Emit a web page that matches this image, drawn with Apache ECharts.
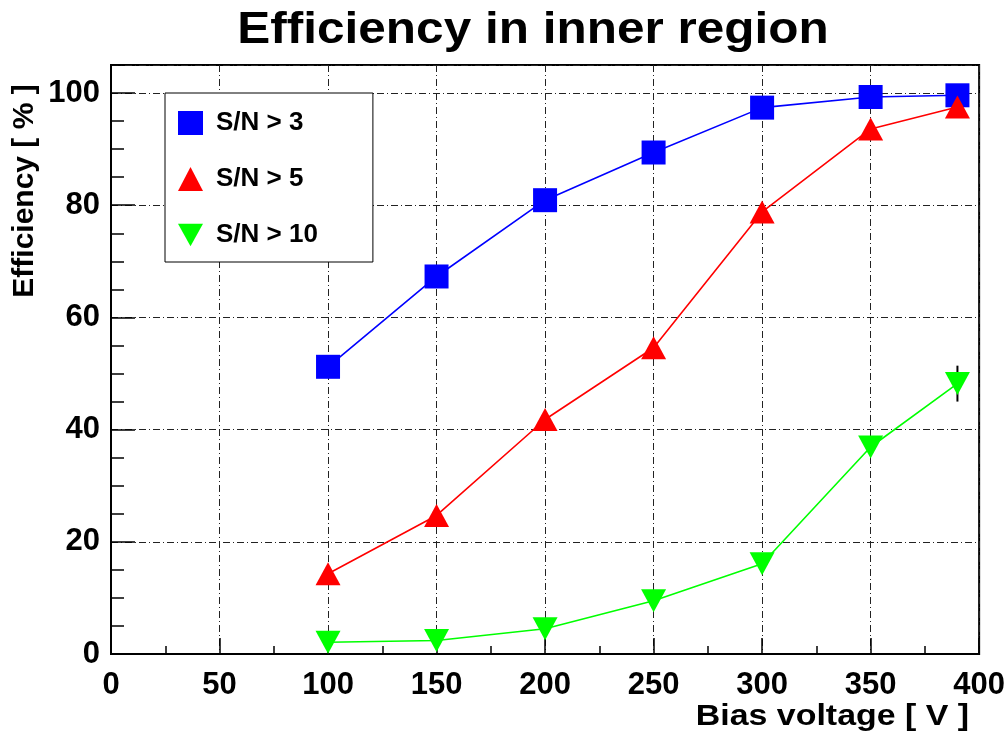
<!DOCTYPE html>
<html>
<head>
<meta charset="utf-8">
<script src="https://cdn.jsdelivr.net/npm/echarts@6/dist/echarts.min.js"></script>
<style>html,body{margin:0;padding:0;background:#fff;}#c{width:1008px;height:736px;}</style>
</head>
<body>
<div id="c"></div>
<script>
var voltages = [100, 150, 200, 250, 300, 350, 390];
var sn3  = [51.2, 67.3, 80.9, 89.4, 97.4, 99.3, 99.6];
var sn5  = [14.3, 24.7, 41.8, 54.6, 78.8, 93.6, 97.5];
var sn10 = [2.1, 2.4, 4.5, 9.5, 16.1, 36.9, 48.2];
var sn10Err = [0, 0, 0, 0, 0, 0, 3.2];
var seriesNames = ['S/N > 3', 'S/N > 5', 'S/N > 10'];
var xTicks = [0, 50, 100, 150, 200, 250, 300, 350, 400];
var yTicks = [0, 20, 40, 60, 80, 100];
var titleText = 'Efficiency in inner region';
var xName = 'Bias voltage [ V ]';
var yName = 'Efficiency [ % ]';

function pairs(ys) { return voltages.map(function (v, i) { return [v, ys[i]]; }); }
var downTri = 'path://M0,0 L20,0 L10,18 Z';
var FONT = '"Liberation Sans", Arial, sans-serif';
var gridDash = [7, 3, 1, 3];

var chart = echarts.init(document.getElementById('c'));
var labelStyle = { fontFamily: FONT, fontWeight: 'bold', fontSize: 31, color: '#000' };

chart.setOption({
  backgroundColor: '#fff',
  animation: false,
  grid: {
    left: 111, right: 28, top: 65, bottom: 82,
    show: true, borderColor: '#000', borderWidth: 2, backgroundColor: '#fff'
  },
  legend: {
    orient: 'vertical', left: 165, top: 93,
    backgroundColor: '#fff', borderColor: '#000', borderWidth: 1, borderRadius: 0,
    padding: [17, 55, 14, 13], itemGap: 30, itemWidth: 25, itemHeight: 24,
    textStyle: { fontFamily: FONT, fontWeight: 'bold', fontSize: 26, lineHeight: 24, color: '#000', padding: [0, 0, 0, 8] },
    data: [
      { name: seriesNames[0], icon: 'rect' },
      { name: seriesNames[1], icon: 'triangle' },
      { name: seriesNames[2], icon: downTri }
    ]
  },
  xAxis: [{
    type: 'value', min: 0, max: 400, interval: 50,
    axisLine: { show: true, lineStyle: { color: '#000', width: 2 } },
    axisTick: { show: true, inside: true, length: 16, lineStyle: { color: '#000', width: 1.5 } },
    minorTick: { show: true, splitNumber: 2, length: 8, lineStyle: { color: '#000', width: 1.5 } },
    axisLabel: Object.assign({ margin: 16, formatter: function (v) { return xTicks.indexOf(v) >= 0 ? String(v) : ''; } }, labelStyle),
    splitLine: { show: true, lineStyle: { color: '#222', width: 1, type: gridDash } }
  }],
  yAxis: [{
    type: 'value', min: 0, max: 105, interval: 20,
    axisLine: { show: true, lineStyle: { color: '#000', width: 2 } },
    axisTick: { show: true, inside: true, length: 24, lineStyle: { color: '#000', width: 1.5 } },
    axisLabel: Object.assign({ margin: 11, showMaxLabel: false, formatter: function (v) { return yTicks.indexOf(v) >= 0 ? String(v) : ''; } }, labelStyle),
    splitLine: { show: true, lineStyle: { color: '#222', width: 1, type: gridDash } }
  }, {
    type: 'value', min: 0, max: 105, interval: 5, position: 'left', offset: 0,
    axisLine: { show: false },
    axisTick: { show: true, inside: true, length: 13, lineStyle: { color: '#000', width: 1.5 } },
    axisLabel: { show: false },
    splitLine: { show: false }
  }],
  graphic: [
    {
      type: 'text', x: 533, y: 31, scaleX: 1.1,
      style: { text: titleText, fontFamily: FONT, fontWeight: 'bold', fontSize: 45, fill: '#000', align: 'center', verticalAlign: 'middle' }
    },
    {
      type: 'text', x: 25, y: 191, rotation: Math.PI / 2,
      style: { text: yName, fontFamily: FONT, fontWeight: 'bold', fontSize: 30, fill: '#000', align: 'center', verticalAlign: 'middle' }
    },
    {
      type: 'text', x: 969, y: 717, scaleX: 1.13,
      style: { text: xName, fontFamily: FONT, fontWeight: 'bold', fontSize: 30, fill: '#000', align: 'right', verticalAlign: 'middle' }
    }
  ],
  series: [
    {
      type: 'custom', name: 'err', silent: true, z: 1,
      data: voltages.map(function (v, i) { return [v, sn10[i], sn10Err[i]]; }),
      renderItem: function (params, api) {
        var e = api.value(2);
        if (!e) return null;
        var top = api.coord([api.value(0), api.value(1) + e]);
        var bot = api.coord([api.value(0), api.value(1) - e]);
        return { type: 'line', shape: { x1: top[0], y1: top[1], x2: bot[0], y2: bot[1] }, style: { stroke: '#000', lineWidth: 2 } };
      }
    },
    {
      name: seriesNames[0], type: 'line', data: pairs(sn3), z: 3,
      symbol: 'rect', symbolSize: 24,
      lineStyle: { color: '#0000ff', width: 1.6 }, itemStyle: { color: '#0000ff' }
    },
    {
      name: seriesNames[1], type: 'line', data: pairs(sn5), z: 3,
      symbol: 'triangle', symbolSize: [25, 23],
      lineStyle: { color: '#ff0000', width: 1.6 }, itemStyle: { color: '#ff0000' }
    },
    {
      name: seriesNames[2], type: 'line', data: pairs(sn10), z: 3,
      symbol: downTri, symbolSize: [25, 23], symbolKeepAspect: false,
      lineStyle: { color: '#00ff00', width: 1.6 }, itemStyle: { color: '#00ff00' }
    }
  ]
});
</script>
</body>
</html>
